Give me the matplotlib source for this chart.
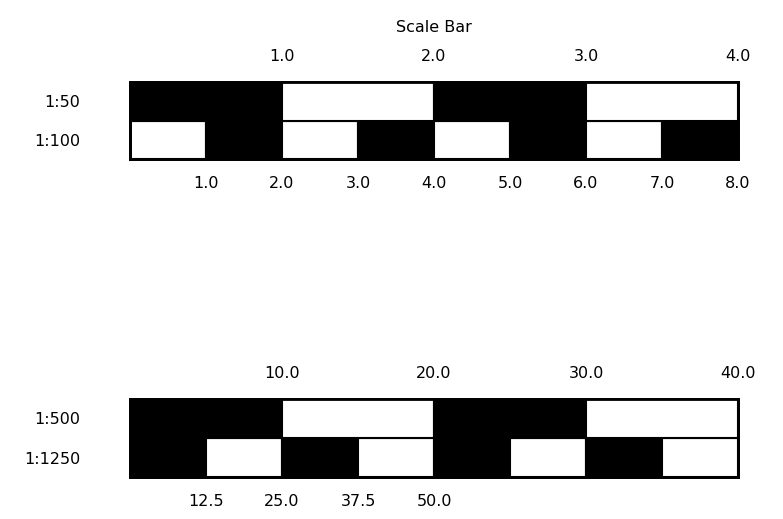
import matplotlib
matplotlib.use('Agg')
import matplotlib.pyplot as plt
from matplotlib import font_manager

# scale bar data
top_scales = ['1:50', '1:100']
s50_ticks = [1.0, 2.0, 3.0, 4.0]
s50_filled = [1, 0, 1, 0]
s100_ticks = [1.0, 2.0, 3.0, 4.0, 5.0, 6.0, 7.0, 8.0]
s100_filled = [0, 1, 0, 1, 0, 1, 0, 1]

bottom_scales = ['1:500', '1:1250']
s500_ticks = [10.0, 20.0, 30.0, 40.0]
s500_filled = [1, 0, 1, 0]
s1250_ticks = [12.5, 25.0, 37.5, 50.0, 62.5, 75.0, 87.5, 100.0]
s1250_labels = ['12.5', '25.0', '37.5', '50.0', '', '', '', '']
s1250_filled = [1, 0, 1, 0, 1, 0, 1, 0]

names = {f.name for f in font_manager.fontManager.ttflist}
if 'Liberation Sans Narrow' in names:
    plt.rcParams['font.family'] = ['Liberation Sans Narrow', 'DejaVu Sans']
    FS = 15
elif 'DejaVu Sans Condensed' in names:
    plt.rcParams['font.family'] = ['DejaVu Sans Condensed', 'DejaVu Sans']
    FS = 12.5
else:
    plt.rcParams['font.family'] = ['DejaVu Sans']
    FS = 11.5


def draw_row(ax, ticks, filled, y):
    lefts = [0] + ticks[:-1]
    widths = [b - a for a, b in zip(lefts, ticks)]
    cols = ['black' if f else 'white' for f in filled]
    ax.barh([y] * len(ticks), widths, left=lefts, height=1, color=cols,
            edgecolor='black', linewidth=1.5)
    ax.set_xlim(0, ticks[-1])


def scale_bar(rect, upper_ticks, upper_filled, lower_ticks, lower_filled,
              lower_labels, row_names):
    ax = fig.add_axes(rect)
    ax2 = ax.twiny()
    draw_row(ax, lower_ticks, lower_filled, 0)
    draw_row(ax2, upper_ticks, upper_filled, 1)
    ax.set_ylim(-0.5, 1.5)
    ax.set_yticks([1, 0])
    ax.set_yticklabels(row_names)
    ax.set_xticks(lower_ticks)
    ax.set_xticklabels(lower_labels)
    ax2.set_xticks(upper_ticks)
    ax2.set_xticklabels(['%.1f' % t for t in upper_ticks])
    ax.tick_params(axis='y', length=0, pad=36, labelsize=FS)
    ax.tick_params(axis='x', length=0, pad=12, labelsize=FS)
    ax2.tick_params(axis='x', length=0, pad=13, labelsize=FS)
    for a in (ax, ax2):
        for s in a.spines.values():
            s.set_linewidth(2)
    return ax2


fig = plt.figure(figsize=(7.83, 5.19), dpi=100)

ax_top = scale_bar([130/783, 1-159/519, 608/783, 77/519],
                   s50_ticks, s50_filled, s100_ticks, s100_filled,
                   ['%.1f' % t for t in s100_ticks], top_scales)
ax_top.set_title('Scale Bar', fontsize=FS, pad=36)

scale_bar([130/783, 1-477/519, 608/783, 78/519],
          s500_ticks, s500_filled, s1250_ticks, s1250_filled,
          s1250_labels, bottom_scales)

fig.savefig('out.png', dpi=100)
